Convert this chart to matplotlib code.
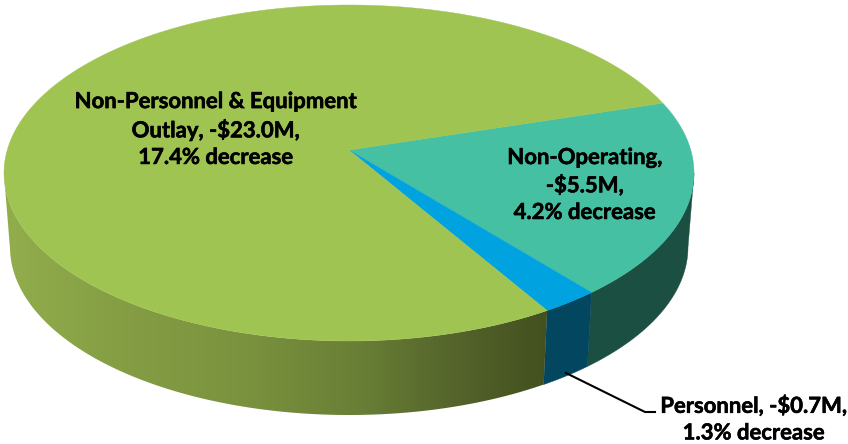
import numpy as np
import matplotlib
matplotlib.use('Agg')
import matplotlib.pyplot as plt
import matplotlib.patheffects as pe
from matplotlib.colors import LinearSegmentedColormap
from matplotlib.patches import Polygon

names = ['Non-Operating', 'Personnel', 'Non-Personnel & Equipment Outlay']
changes = [5.5, 0.7, 23.0]
top_colors = ['#46c0a2', '#00a3e0', '#a0c451']
side_colors = ['#1b4f42', '#03465f', None]
labels = ['Non-Personnel & Equipment\nOutlay, -$23.0M,\n17.4% decrease',
          'Non-Operating,\n-$5.5M,\n4.2% decrease',
          'Personnel, -$0.7M,\n1.3% decrease']

plt.rcParams['font.family'] = ['Lato', 'DejaVu Sans']

# the picture is drawn in pixel space, y going down
fig = plt.figure(figsize=(8.48, 4.44), dpi=100)
ax = fig.add_axes([0, 0, 1, 1])

cx, cy, a, b = 349, 173, 345, 168
apex = (349, 150)
start_angle = -17.2


def persp(theta):
    # angle on the flat disc -> angle on the drawn ellipse, the disc centre
    # lands on the apex and not on the middle of the ellipse
    e = (cy - apex[1]) / b
    p = (1 - np.sqrt(1 - e ** 2)) / e
    c = -1j * p
    z = np.exp(1j * np.radians(theta))
    return np.degrees(np.unwrap(np.angle((z + c) / (1 + np.conj(c) * z))))


def rim(phi, low=False):
    phi = np.radians(phi)
    if low:
        return np.column_stack([cx + 339 * np.cos(phi), cy + 74 + b * np.sin(phi)])
    return np.column_stack([cx + a * np.cos(phi), cy + b * np.sin(phi)])


shares = np.array(changes) / sum(changes) * 360
edges = start_angle + np.concatenate([[0], np.cumsum(shares)])

# side wall first, the top goes over it
green_ramp = LinearSegmentedColormap.from_list(
    'wall', [(0, '#92ae4c'), (0.2, '#869f45'), (0.45, '#7a923e'), (0.65, '#697f36'),
             (0.82, '#55652b'), (1, '#424f1f')])
wall = np.linspace(0, 1, 256).reshape(1, -1)
for i, color in enumerate(side_colors):
    phi = persp(np.linspace(edges[i], edges[i + 1], 400))
    phi = phi[(phi >= 0) & (phi <= 180)]
    pts = np.vstack([rim(phi), rim(phi, low=True)[::-1]])
    if color is None:
        patch = Polygon(pts, closed=True, facecolor='none', edgecolor='none')
        ax.add_patch(patch)
        img = ax.imshow(wall, cmap=green_ramp, extent=(0, 552, 444, 0),
                        aspect='auto', zorder=1)
        img.set_clip_path(patch)
    else:
        ax.add_patch(Polygon(pts, closed=True, facecolor=color, edgecolor=color,
                             linewidth=0.3, zorder=1))
ax.set_xlim(0, 848)
ax.set_ylim(444, 0)
ax.axis('off')

for i, color in enumerate(top_colors):
    phi = persp(np.linspace(edges[i], edges[i + 1], 400))
    pts = np.vstack([[apex], rim(phi)])
    ax.add_patch(Polygon(pts, closed=True, facecolor=color, edgecolor=color,
                         linewidth=0.3, zorder=2))

# leader for the small slice
ax.plot([566, 645, 655], [373, 412, 412], color='black', lw=1.5, zorder=3)

stroke = [pe.withStroke(linewidth=0.4, foreground='black')]
for label, x, y in zip(labels, [216, 585, 754], [129.5, 185, 419]):
    ax.text(x, y, label, ha='center', va='center', fontsize=15.9, fontweight='bold',
            linespacing=1.33, zorder=4, path_effects=stroke)

fig.savefig('out.png', dpi=100)
